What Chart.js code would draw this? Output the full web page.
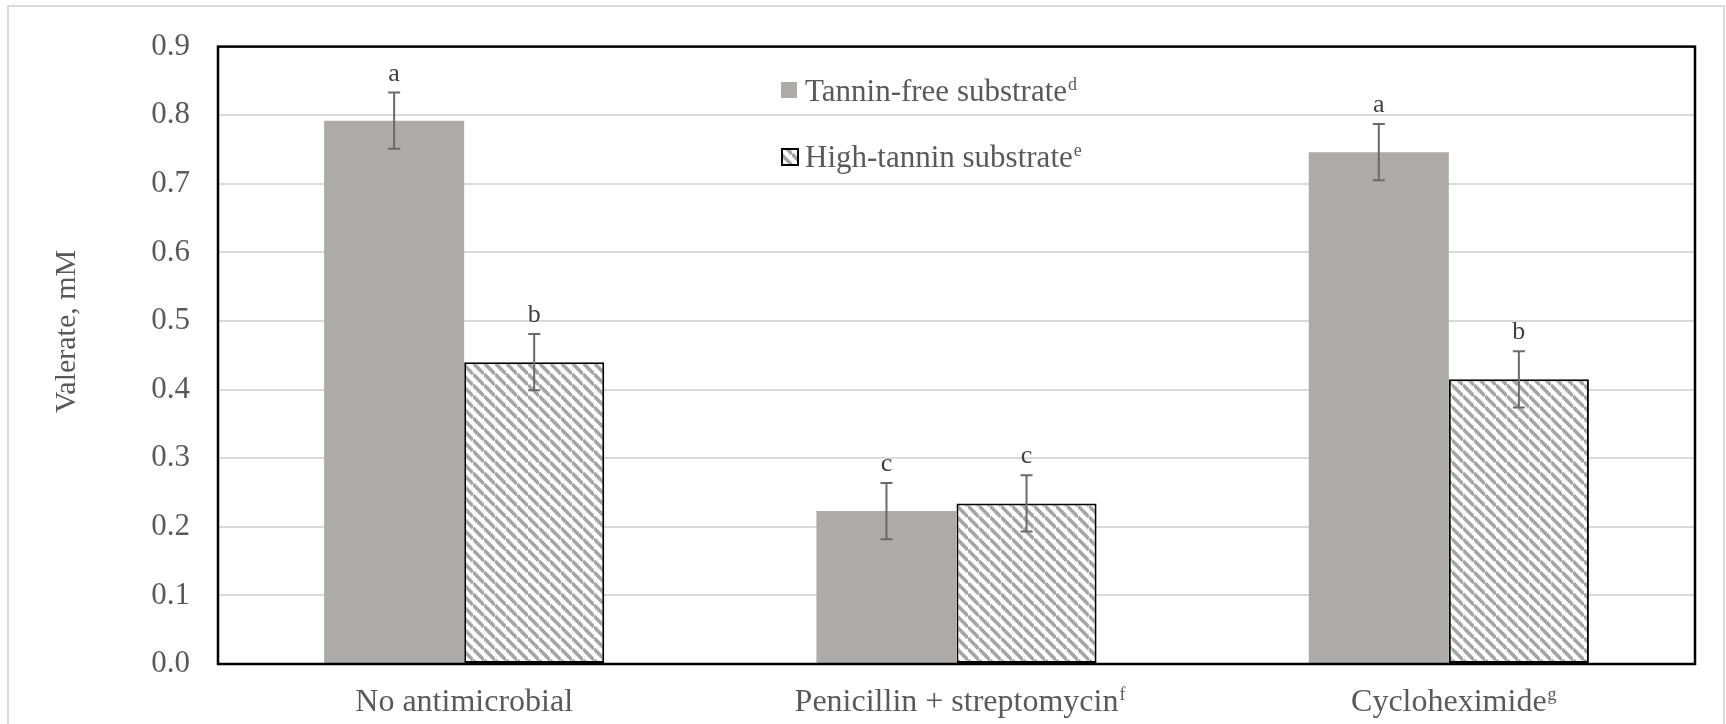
<!DOCTYPE html>
<html lang="en">
<head>
<meta charset="UTF-8">
<title>Valerate</title>
<script src="https://cdn.jsdelivr.net/npm/chart.js"></script>
<style>
  html, body { margin: 0; padding: 0; background: #fff; }
  canvas { display: block; }
</style>
</head>
<body>
<canvas id="chart" width="1726" height="724"></canvas>
<script>
  // data
  const categories = ['No antimicrobial', 'Penicillin + streptomycin', 'Cycloheximide'];
  const categoryNotes = ['', 'f', 'g'];
  const seriesNames = ['Tannin-free substrate', 'High-tannin substrate'];
  const seriesNotes = ['d', 'e'];
  const tanninFree = [0.792, 0.223, 0.746];
  const highTannin = [0.440, 0.234, 0.415];
  const tanninFreeErr = [0.041, 0.041, 0.041];
  const highTanninErr = [0.041, 0.041, 0.041];
  const tanninFreeLetters = ['a', 'c', 'a'];
  const highTanninLetters = ['b', 'c', 'b'];
  const yTickLabels = ['0.0', '0.1', '0.2', '0.3', '0.4', '0.5', '0.6', '0.7', '0.8', '0.9'];
  const yTitle = 'Valerate, mM';

  const SERIF = "'Liberation Serif', 'Times New Roman', serif";
  const GREY_FILL = '#aeaaaa';
  const TEXT = '#595959';

  // diagonal hatch used by the high-tannin bars
  function makeHatch() {
    const s = 11;
    const c = document.createElement('canvas');
    c.width = s; c.height = s;
    const g = c.getContext('2d');
    g.fillStyle = '#ffffff';
    g.fillRect(0, 0, s, s);
    g.strokeStyle = '#a5a5a5';
    g.lineWidth = 3.6;
    g.beginPath();
    for (const k of [-s, 0, s]) {
      g.moveTo(0, k);
      g.lineTo(s, s + k);
    }
    g.stroke();
    return document.getElementById('chart').getContext('2d').createPattern(c, 'repeat');
  }
  const hatch = makeHatch();

  const errors = [tanninFreeErr, highTanninErr];
  const letters = [tanninFreeLetters, highTanninLetters];

  function drawWithSup(ctx, text, sup, x, y, size) {
    ctx.font = size + 'px ' + SERIF;
    ctx.textAlign = 'left';
    ctx.textBaseline = 'alphabetic';
    ctx.fillText(text, x, y);
    if (sup) {
      const w = ctx.measureText(text).width;
      ctx.font = Math.round(size * 0.58) + 'px ' + SERIF;
      ctx.fillText(sup, x + w + 1, y - size * 0.36);
    }
  }

  const decorations = {
    id: 'decorations',
    beforeDraw(chart) {
      const ctx = chart.ctx;
      ctx.save();
      ctx.fillStyle = '#ffffff';
      ctx.fillRect(0, 0, chart.width, chart.height);
      ctx.strokeStyle = '#d9d9d9';
      ctx.lineWidth = 2;
      ctx.strokeRect(8, 6, 1716, 740);
      ctx.restore();
    },
    afterDatasetsDraw(chart) {
      const ctx = chart.ctx;
      const y = chart.scales.y;
      const area = chart.chartArea;
      ctx.save();
      // error bars and significance letters
      chart.data.datasets.forEach((ds, i) => {
        const meta = chart.getDatasetMeta(i);
        meta.data.forEach((bar, j) => {
          const v = ds.data[j];
          const top = y.getPixelForValue(v + errors[i][j]);
          const bot = y.getPixelForValue(v - errors[i][j]);
          ctx.strokeStyle = '#6a6a6a';
          ctx.lineWidth = 2;
          ctx.beginPath();
          ctx.moveTo(bar.x, top); ctx.lineTo(bar.x, bot);
          ctx.moveTo(bar.x - 6, top); ctx.lineTo(bar.x + 6, top);
          ctx.moveTo(bar.x - 6, bot); ctx.lineTo(bar.x + 6, bot);
          ctx.stroke();
          ctx.fillStyle = '#404040';
          ctx.font = '26px ' + SERIF;
          ctx.textAlign = 'center';
          ctx.textBaseline = 'alphabetic';
          ctx.fillText(letters[i][j], bar.x, top - 12);
        });
      });
      // plot frame
      ctx.strokeStyle = '#000000';
      ctx.lineWidth = 2.5;
      ctx.strokeRect(area.left, area.top, area.right - area.left, area.bottom - area.top);
      ctx.restore();
    },
    afterDraw(chart) {
      const ctx = chart.ctx;
      const x = chart.scales.x;
      const area = chart.chartArea;
      ctx.save();
      ctx.fillStyle = TEXT;
      // superscripts after the category labels
      ctx.font = '32px ' + SERIF;
      categories.forEach((name, j) => {
        if (!categoryNotes[j]) return;
        const w = ctx.measureText(name).width;
        const px = x.getPixelForTick(j) + w / 2 + 1;
        ctx.save();
        ctx.font = '18px ' + SERIF;
        ctx.textAlign = 'left';
        ctx.textBaseline = 'alphabetic';
        ctx.fillText(categoryNotes[j], px, 700);
        ctx.restore();
      });
      // legend inside the plot
      const lx = area.left + 563;
      const rows = [90, 156];
      seriesNames.forEach((name, i) => {
        const cy = rows[i];
        if (i === 0) {
          ctx.fillStyle = GREY_FILL;
          ctx.fillRect(lx, cy - 8, 16, 16);
        } else {
          ctx.fillStyle = hatch;
          ctx.fillRect(lx, cy - 8, 17, 17);
          ctx.strokeStyle = '#000000';
          ctx.lineWidth = 2;
          ctx.strokeRect(lx + 1, cy - 7, 16, 16);
        }
        ctx.fillStyle = TEXT;
        drawWithSup(ctx, name, seriesNotes[i], lx + 24, cy + 11, 31);
      });
      // y axis title
      ctx.translate(75, 413);
      ctx.rotate(-Math.PI / 2);
      ctx.font = '30px ' + SERIF;
      ctx.fillStyle = TEXT;
      ctx.textAlign = 'left';
      ctx.textBaseline = 'alphabetic';
      ctx.fillText(yTitle, 0, 0);
      ctx.restore();
    }
  };

  new Chart(document.getElementById('chart'), {
    type: 'bar',
    data: {
      labels: categories,
      datasets: [
        {
          label: seriesNames[0],
          data: tanninFree,
          backgroundColor: GREY_FILL,
          borderWidth: 0,
          categoryPercentage: 0.569,
          barPercentage: 1
        },
        {
          label: seriesNames[1],
          data: highTannin,
          backgroundColor: hatch,
          borderColor: '#000000',
          borderWidth: 2,
          borderSkipped: false,
          categoryPercentage: 0.569,
          barPercentage: 1
        }
      ]
    },
    options: {
      responsive: false,
      animation: false,
      layout: { padding: { top: 46, right: 31, bottom: 0, left: 0 } },
      plugins: {
        legend: { display: false },
        tooltip: { enabled: false }
      },
      scales: {
        x: {
          grid: { display: false, drawTicks: false },
          border: { display: false },
          ticks: {
            color: TEXT,
            font: { family: SERIF, size: 32 },
            padding: 19,
            maxRotation: 0,
            autoSkip: false
          },
          afterFit(scale) { scale.height = 60; }
        },
        y: {
          min: 0,
          max: 0.9,
          grid: { color: '#d9d9d9', lineWidth: 2, drawTicks: false },
          border: { display: false },
          ticks: {
            stepSize: 0.1,
            color: TEXT,
            font: { family: SERIF, size: 31 },
            padding: 28,
            callback: (v, i) => yTickLabels[i]
          },
          afterFit(scale) { scale.width = 218; }
        }
      }
    },
    plugins: [decorations]
  });
</script>
</body>
</html>
